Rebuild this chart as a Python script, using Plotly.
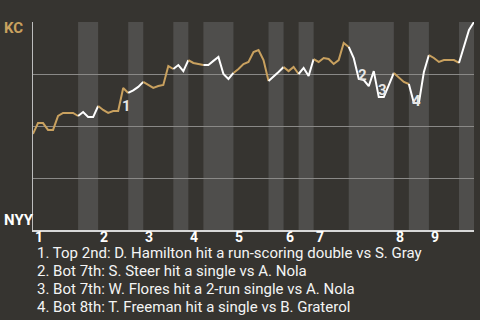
import plotly.graph_objects as go

# Win probability for KC (0 = NYY wins, 100 = KC wins), one value per plate appearance
kc_wp = [46.2, 51.4, 51.4, 48.1, 48.1, 54.8, 56.3, 56.3, 56.3, 54.8,
         56.7, 54.3, 54.3, 59.6, 57.7, 56.3, 57.2, 57.2, 68.3, 65.9,
         67.1, 68.8, 71.2, 69.7, 68.3, 69.2, 69.7, 78.8, 77.4, 79.3,
         76.4, 81.7, 80.3, 79.8, 79.3, 79.3, 81.3, 83.2, 75.0, 72.6,
         75.5, 77.4, 79.8, 80.8, 85.6, 86.5, 81.7, 71.6, 73.6, 76.0,
         78.4, 76.4, 78.4, 75.0, 77.9, 74.0, 82.2, 80.8, 82.7, 82.2,
         79.8, 81.7, 89.9, 88.0, 82.7, 72.6, 72.1, 69.2, 76.4, 63.9,
         63.9, 69.7, 75.5, 73.1, 71.2, 70.2, 61.1, 61.1, 76.0, 84.1,
         82.7, 80.8, 81.7, 81.7, 81.7, 80.3, 88.9, 96.2, 100.0]
pa_index = list(range(len(kc_wp)))

# Half-inning boundaries (plate-appearance index)
half_inning_bounds = [0, 9, 13, 19, 22, 28, 31, 34, 40, 47, 50, 53, 56, 63, 72, 75, 79, 85, 88]
inning_labels = ["1", "2", "3", "4", "5", "6", "7", "8", "9"]

# Key events
event_labels = ["1", "2", "3", "4"]
event_x = [18.7, 65.7, 69.7, 76.6]
event_y = [59.6, 74.5, 67.2, 61.8]
event_text = [
    "1. Top 2nd: D. Hamilton hit a run-scoring double vs S. Gray",
    "2. Bot 7th: S. Steer hit a single vs A. Nola",
    "3. Bot 7th: W. Flores hit a 2-run single vs A. Nola",
    "4. Bot 8th: T. Freeman hit a single vs B. Graterol",
]

BG = "#363430"
BAND = "#4f4e4c"
GOLD = "#c9a15f"
WHITE = "#ffffff"
FONT = "Roboto"

fig = go.Figure()

shapes = []
for i in range(len(half_inning_bounds) - 1):
    a, b = half_inning_bounds[i], half_inning_bounds[i + 1]
    top = (i % 2 == 0)
    if not top:
        shapes.append(dict(type="rect", xref="x", yref="paper", x0=a, x1=b, y0=0, y1=1,
                           fillcolor=BAND, line=dict(width=0), layer="below"))
    fig.add_trace(go.Scatter(
        x=pa_index[a:b + 1], y=kc_wp[a:b + 1], mode="lines",
        line=dict(color=GOLD if top else WHITE, width=2),
        hoverinfo="skip", showlegend=False))

annotations = []
# inning labels (left-aligned at inning start)
inning_starts = half_inning_bounds[0:-1:2]
for lab, xs in zip(inning_labels, inning_starts):
    annotations.append(dict(x=xs, xref="x", y=-0.035, yref="paper", text=lab,
                            showarrow=False, xanchor="left", yanchor="middle",
                            font=dict(family=FONT, size=14, color=WHITE, weight="bold")))
for lab, ex, ey in zip(event_labels, event_x, event_y):
    annotations.append(dict(x=ex, y=ey, xref="x", yref="y", text=lab, showarrow=False,
                            xanchor="center", yanchor="middle",
                            font=dict(family=FONT, size=15, color="#e6e6e6", weight="bold")))
for k, t in enumerate(event_text):
    py = 253 + 18 * k
    annotations.append(dict(x=(35 - 33) / 441, xref="paper", y=(230 - py) / 208, yref="paper",
                            text=t, showarrow=False, xanchor="left", yanchor="middle",
                            font=dict(family=FONT, size=15, color="#f4f4f4")))
annotations.append(dict(x=(2 - 33) / 441, xref="paper", y=(230 - 28) / 208, yref="paper",
                        text="KC", showarrow=False, xanchor="left", yanchor="middle",
                        font=dict(family=FONT, size=15, color=GOLD, weight="bold")))
annotations.append(dict(x=(2 - 33) / 441, xref="paper", y=(230 - 220) / 208, yref="paper",
                        text="NYY", showarrow=False, xanchor="left", yanchor="middle",
                        font=dict(family=FONT, size=15, color=WHITE, weight="bold")))

fig.update_layout(
    width=480, height=320,
    margin=dict(l=33, r=6, t=22, b=90),
    paper_bgcolor=BG, plot_bgcolor=BG,
    shapes=shapes, annotations=annotations,
    xaxis=dict(range=[0, 88], showgrid=False, zeroline=False, showticklabels=False,
               showline=True, linecolor="#d8d8d8", linewidth=2, ticks=""),
    yaxis=dict(range=[0, 100], tickvals=[0, 25, 50, 75, 100], showgrid=True,
               gridcolor="#8a8987", gridwidth=1, zeroline=False, showticklabels=False,
               showline=True, linecolor="#bdbdbd", linewidth=1, ticks=""),
)

fig.write_html("out.html")
